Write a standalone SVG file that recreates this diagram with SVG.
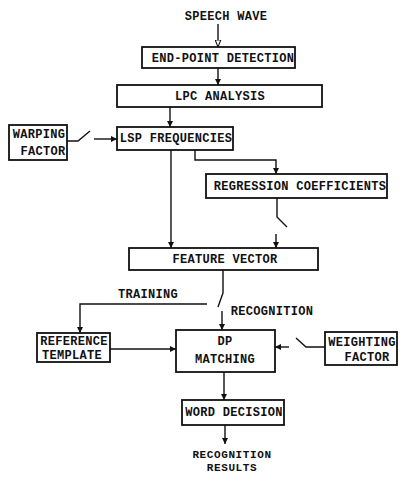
<svg xmlns="http://www.w3.org/2000/svg" width="400" height="477" viewBox="0 0 400 477">
<style>
.box{fill:#fff;stroke:#111;stroke-width:1.8}
.ln{fill:none;stroke:#111;stroke-width:1.4}
.t{font-family:"Liberation Mono","DejaVu Sans Mono",monospace;font-size:12px;font-weight:bold;fill:#111;text-anchor:middle;letter-spacing:0.3px}
.s{font-size:11px;letter-spacing:0.6px}
</style>
<defs>
<marker id="ah" viewBox="0 0 10 10" refX="10" refY="5" markerWidth="6" markerHeight="7" markerUnits="userSpaceOnUse" orient="auto">
<path d="M0,0 L10,5 L0,10 z" fill="#111"/>
</marker>
<marker id="ho" viewBox="0 0 10 10" refX="10" refY="5" markerWidth="7" markerHeight="7" markerUnits="userSpaceOnUse" orient="auto">
<path d="M0,1 L10,5 L0,9 z" fill="#fff" stroke="#111" stroke-width="1.5"/>
</marker>
</defs>
<g id="connectors">
<line class="ln" x1="218" y1="24" x2="218" y2="47" marker-end="url(#ho)"/>
<line class="ln" x1="218" y1="68" x2="218" y2="85" marker-end="url(#ah)"/>
<line class="ln" x1="170" y1="107" x2="170" y2="127" marker-end="url(#ah)"/>
<polyline class="ln" points="67,141 78,141 90,131"/>
<line class="ln" x1="94" y1="139" x2="117" y2="139" marker-end="url(#ah)"/>
<line class="ln" x1="171" y1="150" x2="171" y2="248" marker-end="url(#ah)"/>
<polyline class="ln" points="195,150 195,160 276,160 276,174" marker-end="url(#ah)"/>
<polyline class="ln" points="277,198 277,217 287,227"/>
<line class="ln" x1="276" y1="234" x2="276" y2="248" marker-end="url(#ah)"/>
<polyline class="ln" points="223,270 223,293 218,307"/>
<line class="ln" x1="222" y1="311" x2="222" y2="330" marker-end="url(#ah)"/>
<polyline class="ln" points="207,304 80,304 80,333" marker-end="url(#ah)"/>
<line class="ln" x1="110" y1="349" x2="176" y2="349" marker-end="url(#ah)"/>
<polyline class="ln" points="325,347 306,347 296,338"/>
<line class="ln" x1="289" y1="347" x2="275" y2="347" marker-end="url(#ah)"/>
<line class="ln" x1="224" y1="372" x2="224" y2="400" marker-end="url(#ah)"/>
<line class="ln" x1="225" y1="425" x2="225" y2="444" marker-end="url(#ah)"/>
</g>
<g id="speech-wave"><text class="t" x="226" y="20">SPEECH WAVE</text></g>
<g id="end-point"><rect class="box" x="142" y="47" width="153" height="21"/><text class="t" x="223" y="62">END-POINT DETECTION</text></g>
<g id="lpc"><rect class="box" x="117" y="85" width="205" height="22"/><text class="t" x="220" y="100">LPC ANALYSIS</text></g>
<g id="warping"><rect class="box" x="9" y="125" width="58" height="35"/><text class="t" x="39" y="138">WARPING</text><text class="t" x="43" y="155">FACTOR</text></g>
<g id="lsp"><rect class="box" x="117" y="127" width="116" height="23"/><text class="t" x="176" y="142">LSP FREQUENCIES</text></g>
<g id="regression"><rect class="box" x="206" y="174" width="181" height="24"/><text class="t" x="300" y="190">REGRESSION COEFFICIENTS</text></g>
<g id="feature"><rect class="box" x="129" y="248" width="189" height="22"/><text class="t" x="225" y="263">FEATURE VECTOR</text></g>
<g id="training"><text class="t" x="148" y="298">TRAINING</text></g>
<g id="recognition"><text class="t" x="272" y="315">RECOGNITION</text></g>
<g id="reference"><rect class="box" x="37" y="333" width="73" height="29"/><text class="t" x="74" y="345">REFERENCE</text><text class="t" x="72" y="359">TEMPLATE</text></g>
<g id="dp"><rect class="box" x="176" y="330" width="99" height="42"/><text class="t" x="225" y="345">DP</text><text class="t" x="225" y="363">MATCHING</text></g>
<g id="weighting"><rect class="box" x="325" y="332" width="72" height="33"/><text class="t" x="362" y="346">WEIGHTING</text><text class="t" x="367" y="361">FACTOR</text></g>
<g id="word"><rect class="box" x="182" y="400" width="102" height="25"/><text class="t" x="234" y="416">WORD DECISION</text></g>
<g id="results"><text class="t s" x="232" y="458">RECOGNITION</text><text class="t s" x="232" y="471">RESULTS</text></g>
</svg>
